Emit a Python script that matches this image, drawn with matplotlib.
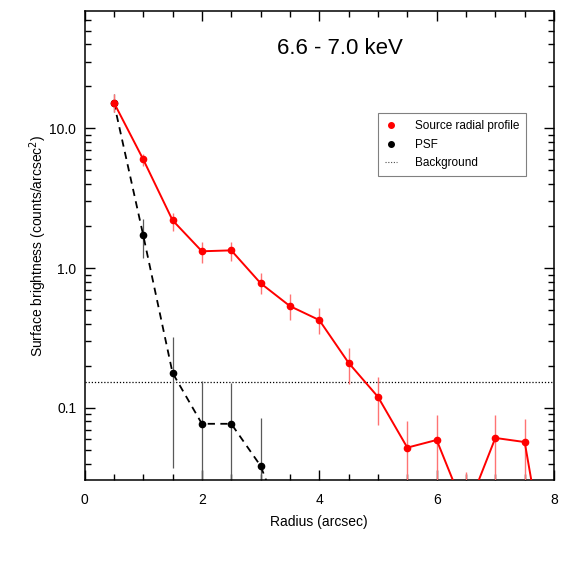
import numpy as np
import matplotlib
matplotlib.use('Agg')
from matplotlib import pyplot as plt
from matplotlib.ticker import MultipleLocator, LogLocator, FixedLocator, NullFormatter

plt.rcParams['font.family'] = ['Liberation Sans', 'DejaVu Sans']

# Source radial profile (6.6 - 7.0 keV)
radius = [0.5, 1.0, 1.5, 2.0, 2.5, 3.0, 3.5, 4.0, 4.5, 5.0, 5.5, 6.0, 6.5, 7.0, 7.5, 8.0]
src = [15.3, 6.0, 2.2, 1.32, 1.34, 0.78, 0.535, 0.425, 0.21, 0.12, 0.052, 0.059, 0.0178, 0.061, 0.057, 0.0035]
src_lo = [13.0, 5.4, 1.85, 1.08, 1.13, 0.65, 0.425, 0.34, 0.149, 0.075, 0.001, 0.001, 0.001, 0.001, 0.001, 0.0035]
src_hi = [17.5, 6.6, 2.5, 1.53, 1.53, 0.92, 0.65, 0.52, 0.27, 0.166, 0.081, 0.089, 0.035, 0.089, 0.083, 0.0035]

# PSF profile
psf_radius = [0.5, 1.0, 1.5, 2.0, 2.5, 3.0, 3.5]
psf = [15.3, 1.72, 0.178, 0.077, 0.077, 0.0385, 0.011]
psf_lo = [13.0, 1.18, 0.037, 0.001, 0.001, 0.001, 0.011]
psf_hi = [17.5, 2.24, 0.32, 0.156, 0.151, 0.085, 0.011]

background = 0.153

fig = plt.figure(figsize=(5.65, 5.65), dpi=100)
ax = fig.add_axes([0.1496, 0.1504, 0.831, 0.830])

# error bars drawn first so points sit on top
yerr_psf = [np.array(psf) - np.array(psf_lo), np.array(psf_hi) - np.array(psf)]
ax.errorbar(psf_radius, psf, yerr=yerr_psf, fmt='none', ecolor='0.35', elinewidth=0.9, capsize=0, zorder=2)
ax.plot(psf_radius, psf, color='black', linestyle=(0, (4, 3)), linewidth=1.3, marker='o', markersize=4.5, zorder=3)

yerr_src = [np.array(src) - np.array(src_lo), np.array(src_hi) - np.array(src)]
ax.errorbar(radius, src, yerr=yerr_src, fmt='none', ecolor=(1, 0.45, 0.45), elinewidth=1.0, capsize=0, zorder=4)
ax.plot(radius, src, color='red', linewidth=1.4, marker='o', markersize=4.5, zorder=5)

ax.axhline(background, color='black', linestyle=(0, (1, 1.5)), linewidth=0.9, zorder=1)

ax.set_yscale('log')
ax.set_xlim(0, 8)
ax.set_ylim(0.0305, 69)

ax.xaxis.set_major_locator(MultipleLocator(2))
ax.xaxis.set_minor_locator(MultipleLocator(0.5))
ax.yaxis.set_major_locator(FixedLocator([0.1, 1.0, 10.0]))
ax.set_yticklabels(['0.1', '1.0', '10.0'])
ax.yaxis.set_minor_locator(LogLocator(base=10, subs=np.arange(2, 10)))
ax.yaxis.set_minor_formatter(NullFormatter())

ax.tick_params(which='both', direction='in', top=True, right=True, labelsize=10, width=1.0)
ax.tick_params(which='major', length=7.5, pad=6)
ax.tick_params(axis='x', which='major', pad=9)
ax.tick_params(which='minor', length=4)
for s in ax.spines.values():
    s.set_linewidth(1.1)

ax.set_xlabel('Radius (arcsec)', fontsize=10, labelpad=6)
ax.set_ylabel('Surface brightness (counts/arcsec$^2$)', fontsize=10, labelpad=0)

ax.text(0.543, 0.92, '6.6 - 7.0 keV', transform=ax.transAxes, fontsize=16, ha='center', va='center')

# legend with marker-only handles like the original
h1, = ax.plot([], [], 'o', color='red', markersize=4)
h2, = ax.plot([], [], 'o', color='black', markersize=4)
h3, = ax.plot([], [], color='0.3', linestyle=(0, (1, 1.5)), linewidth=0.8)
leg = ax.legend([h1, h2, h3], ['Source radial profile', 'PSF', 'Background'],
                loc='upper left', bbox_to_anchor=(0.625, 0.7825), borderaxespad=0,
                fontsize=8.5, fancybox=False, framealpha=1, edgecolor='0.5',
                handlelength=1.0, handletextpad=1.5, labelspacing=0.55, borderpad=0.6)
leg.get_frame().set_linewidth(0.8)

fig.savefig('out.png', dpi=100)
